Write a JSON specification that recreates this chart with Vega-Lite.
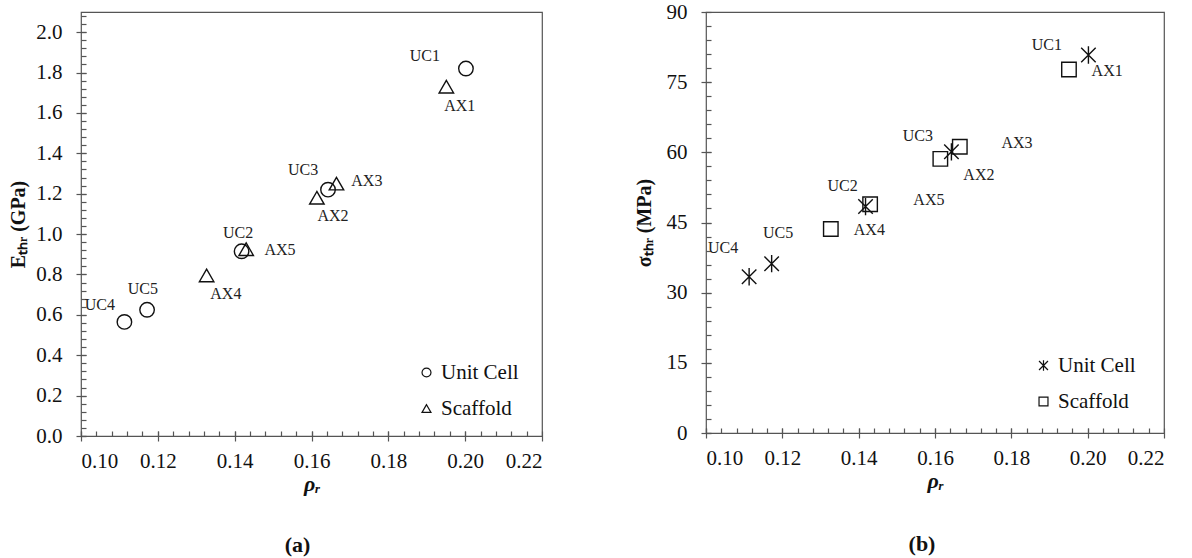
{
  "$schema": "https://vega.github.io/schema/vega-lite/v6.json",
  "padding": {"left": 8, "top": 0, "right": 2, "bottom": 0},
  "autosize": {"type": "pad"},
  "background": "white",
  "spacing": 89,
  "config": {
    "view": {"stroke": "#555", "strokeWidth": 1.2},
    "font": "Liberation Serif",
    "axis": {
      "domainColor": "#555", "tickColor": "#555", "domainWidth": 1.2, "tickWidth": 1.2,
      "labelColor": "#111", "titleColor": "#111", "labelFont": "Liberation Serif", "titleFont": "Liberation Serif",
      "labelFontSize": 21, "grid": false
    },
    "legend": {
      "orient": "none", "title": null, "labelFont": "Liberation Serif", "labelFontSize": 21, "labelColor": "#111",
      "symbolSize": 80, "symbolStrokeColor": "#111", "symbolStrokeWidth": 1.2, "symbolFillColor": "transparent",
      "rowPadding": 14, "labelOffset": 4
    },
    "title": {"font": "Liberation Serif", "fontSize": 22, "fontWeight": "bold", "color": "#111"}
  },
  "datasets": {
    "points": [
      {"name": "UC1", "type": "Unit Cell", "rho": 0.2002, "E": 1.82, "sigma": 80.8},
      {"name": "UC2", "type": "Unit Cell", "rho": 0.1418, "E": 0.915, "sigma": 48.4},
      {"name": "UC3", "type": "Unit Cell", "rho": 0.1643, "E": 1.22, "sigma": 60.1},
      {"name": "UC4", "type": "Unit Cell", "rho": 0.1113, "E": 0.565, "sigma": 33.4},
      {"name": "UC5", "type": "Unit Cell", "rho": 0.1172, "E": 0.625, "sigma": 36.2},
      {"name": "AX1", "type": "Scaffold", "rho": 0.1951, "E": 1.73, "sigma": 77.7},
      {"name": "AX2", "type": "Scaffold", "rho": 0.1614, "E": 1.18, "sigma": 58.6},
      {"name": "AX3", "type": "Scaffold", "rho": 0.1665, "E": 1.25, "sigma": 61.2},
      {"name": "AX4", "type": "Scaffold", "rho": 0.1327, "E": 0.795, "sigma": 43.6},
      {"name": "AX5", "type": "Scaffold", "rho": 0.143, "E": 0.925, "sigma": 48.9}
    ],
    "labelsE": [
      {"name": "UC1", "rho": 0.1895, "value": 1.882},
      {"name": "AX1", "rho": 0.1986, "value": 1.634},
      {"name": "UC3", "rho": 0.1578, "value": 1.317},
      {"name": "AX3", "rho": 0.1744, "value": 1.263},
      {"name": "AX2", "rho": 0.1656, "value": 1.09},
      {"name": "UC2", "rho": 0.1409, "value": 1.005},
      {"name": "AX5", "rho": 0.1518, "value": 0.921},
      {"name": "AX4", "rho": 0.1377, "value": 0.703},
      {"name": "UC4", "rho": 0.1049, "value": 0.649},
      {"name": "UC5", "rho": 0.1161, "value": 0.726}
    ],
    "labelsS": [
      {"name": "UC1", "rho": 0.1893, "value": 82.95},
      {"name": "AX1", "rho": 0.2051, "value": 77.4},
      {"name": "UC3", "rho": 0.1555, "value": 63.4},
      {"name": "AX3", "rho": 0.1815, "value": 62.0},
      {"name": "AX2", "rho": 0.1715, "value": 55.1},
      {"name": "AX5", "rho": 0.1584, "value": 49.9},
      {"name": "UC2", "rho": 0.1358, "value": 52.8},
      {"name": "AX4", "rho": 0.1428, "value": 43.4},
      {"name": "UC5", "rho": 0.1189, "value": 42.7},
      {"name": "UC4", "rho": 0.1045, "value": 39.5}
    ]
  },
  "resolve": {"scale": {"shape": "independent"}, "legend": {"shape": "independent"}},
  "hconcat": [
    {
      "width": 461,
      "height": 424,
      "title": {"text": "(a)", "orient": "bottom", "offset": 41, "frame": "group", "dx": -14},
      "resolve": {"axis": {"x": "independent", "y": "independent"}},
      "layer": [
        {
          "data": {"name": "points"},
          "mark": {"type": "point", "filled": false, "size": 210, "strokeWidth": 1.4, "color": "#111", "opacity": 1},
          "encoding": {
            "x": {"field": "rho", "type": "quantitative",
              "scale": {"domain": [0.1, 0.22], "nice": false, "zero": false},
              "axis": {"orient": "bottom", "values": [0.1, 0.12, 0.14, 0.16, 0.18, 0.2, 0.22], "format": ".2f",
                "offset": -5, "tickSize": 10, "domain": false, "labelPadding": 9, "labelFont": "Liberation Serif",
                "title": "ρᵣ", "titleFont": "Liberation Serif", "titleFontSize": 22, "titleFontWeight": "bold",
                "titleFontStyle": "italic", "titlePadding": 2}},
            "y": {"field": "E", "type": "quantitative",
              "scale": {"domain": [0, 2.1], "nice": false},
              "axis": {"orient": "left", "values": [0, 0.2, 0.4, 0.6, 0.8, 1.0, 1.2, 1.4, 1.6, 1.8, 2.0], "format": ".1f",
                "offset": -5, "tickSize": 10, "domain": false, "labelPadding": 14, "labelFont": "Liberation Serif",
                "title": "Eₜₕᵣ (GPa)", "titleFont": "Liberation Serif", "titleFontSize": 20, "titleFontWeight": "bold",
                "titlePadding": 7}},
            "shape": {"field": "type", "type": "nominal",
              "scale": {"domain": ["Unit Cell", "Scaffold"], "range": ["circle", "triangle-up"]},
              "legend": {"legendX": 335, "legendY": 350, "labelFont": "Liberation Serif"}}
          }
        },
        {
          "data": {"name": "labelsE"},
          "mark": {"type": "text", "font": "Liberation Serif", "fontSize": 16, "color": "#222", "align": "center", "baseline": "middle"},
          "encoding": {
            "x": {"field": "rho", "type": "quantitative",
              "axis": {"orient": "bottom", "values": [0.1,0.104,0.108,0.112,0.116,0.12,0.124,0.128,0.132,0.136,0.14,0.144,0.148,0.152,0.156,0.16,0.164,0.168,0.172,0.176,0.18,0.184,0.188,0.192,0.196,0.2,0.204,0.208,0.212,0.216],
                "offset": -5, "tickSize": 5, "labels": false, "domain": false, "title": null}},
            "y": {"field": "value", "type": "quantitative",
              "axis": {"orient": "left", "values": [0,0.04,0.08,0.12,0.16,0.2,0.24,0.28,0.32,0.36,0.4,0.44,0.48,0.52,0.56,0.6,0.64,0.68,0.72,0.76,0.8,0.84,0.88,0.92,0.96,1,1.04,1.08,1.12,1.16,1.2,1.24,1.28,1.32,1.36,1.4,1.44,1.48,1.52,1.56,1.6,1.64,1.68,1.72,1.76,1.8,1.84,1.88,1.92,1.96,2,2.04,2.08],
                "offset": -5, "tickSize": 5, "labels": false, "domain": false, "title": null}},
            "text": {"field": "name", "type": "nominal"}
          }
        }
      ]
    },
    {
      "width": 458,
      "height": 421,
      "title": {"text": "(b)", "orient": "bottom", "offset": 43, "frame": "group", "dx": -13},
      "resolve": {"axis": {"x": "independent", "y": "independent"}},
      "layer": [
        {
          "data": {"name": "points"},
          "mark": {"type": "point", "filled": false, "size": 210, "strokeWidth": 1.4, "color": "#111", "opacity": 1},
          "encoding": {
            "x": {"field": "rho", "type": "quantitative",
              "scale": {"domain": [0.1, 0.22], "nice": false, "zero": false},
              "axis": {"orient": "bottom", "values": [0.1, 0.12, 0.14, 0.16, 0.18, 0.2, 0.22], "format": ".2f",
                "offset": -5, "tickSize": 10, "domain": false, "labelPadding": 9, "labelFont": "Liberation Serif",
                "title": "ρᵣ", "titleFont": "Liberation Serif", "titleFontSize": 22, "titleFontWeight": "bold",
                "titleFontStyle": "italic", "titlePadding": 2}},
            "y": {"field": "sigma", "type": "quantitative",
              "scale": {"domain": [0, 90], "nice": false},
              "axis": {"orient": "left", "values": [0, 15, 30, 45, 60, 75, 90], "format": "d",
                "offset": -5, "tickSize": 10, "domain": false, "labelPadding": 14, "labelFont": "Liberation Serif",
                "title": "σₜₕᵣ (MPa)", "titleFont": "Liberation Serif", "titleFontSize": 20, "titleFontWeight": "bold",
                "titlePadding": 12}},
            "shape": {"field": "type", "type": "nominal",
              "scale": {"domain": ["Unit Cell", "Scaffold"], "range": ["M-1,-1L1,1M-1,1L1,-1M0,-1.2L0,1.2", "square"]},
              "legend": {"legendX": 327, "legendY": 343, "labelFont": "Liberation Serif"}}
          }
        },
        {
          "data": {"name": "labelsS"},
          "mark": {"type": "text", "font": "Liberation Serif", "fontSize": 16, "color": "#222", "align": "center", "baseline": "middle"},
          "encoding": {
            "x": {"field": "rho", "type": "quantitative",
              "axis": {"orient": "bottom", "values": [0.1,0.104,0.108,0.112,0.116,0.12,0.124,0.128,0.132,0.136,0.14,0.144,0.148,0.152,0.156,0.16,0.164,0.168,0.172,0.176,0.18,0.184,0.188,0.192,0.196,0.2,0.204,0.208,0.212,0.216],
                "offset": -5, "tickSize": 5, "labels": false, "domain": false, "title": null}},
            "y": {"field": "value", "type": "quantitative",
              "axis": {"orient": "left", "values": [0,3,6,9,12,15,18,21,24,27,30,33,36,39,42,45,48,51,54,57,60,63,66,69,72,75,78,81,84,87],
                "offset": -5, "tickSize": 5, "labels": false, "domain": false, "title": null}},
            "text": {"field": "name", "type": "nominal"}
          }
        }
      ]
    }
  ]
}
